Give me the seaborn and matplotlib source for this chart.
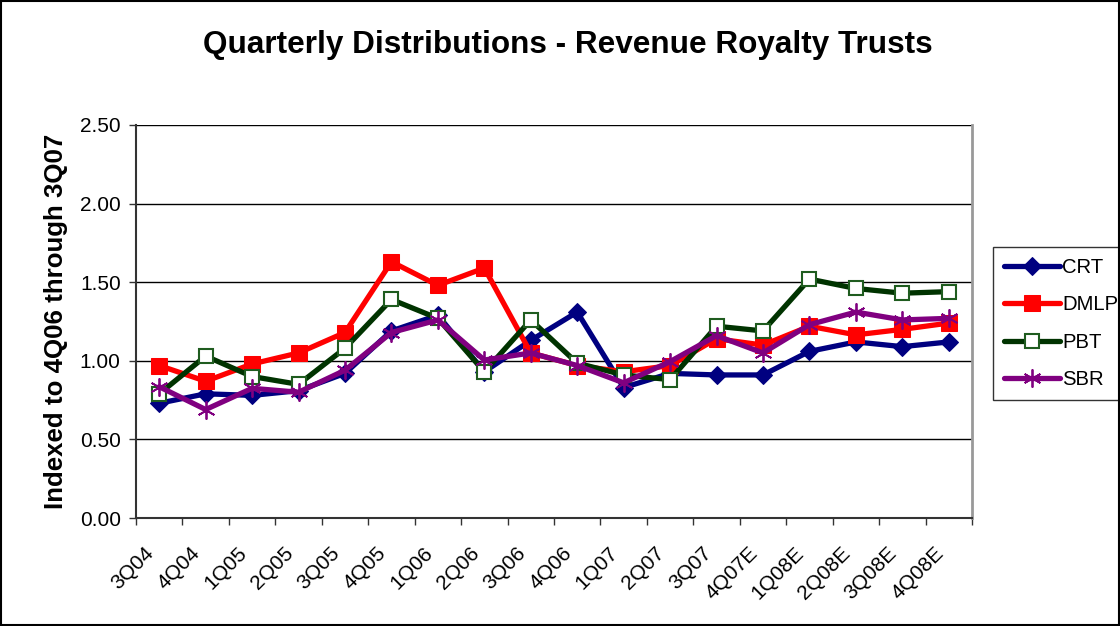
import matplotlib
matplotlib.use("Agg")
import matplotlib.pyplot as plt
import matplotlib.transforms as mtransforms
import seaborn as sns
import numpy as np
import pandas as pd
from matplotlib.patches import Rectangle

quarters = ["3Q04", "4Q04", "1Q05", "2Q05", "3Q05", "4Q05", "1Q06", "2Q06", "3Q06",
            "4Q06", "1Q07", "2Q07", "3Q07", "4Q07E", "1Q08E", "2Q08E", "3Q08E", "4Q08E"]
crt = [0.73, 0.79, 0.78, 0.81, 0.92, 1.19, 1.29, 0.93, 1.13, 1.31, 0.83, 0.92, 0.91, 0.91, 1.06, 1.12, 1.09, 1.12]
dmlp = [0.97, 0.87, 0.98, 1.05, 1.18, 1.63, 1.48, 1.59, 1.05, 0.97, 0.93, 0.97, 1.14, 1.10, 1.22, 1.165, 1.20, 1.24]
pbt = [0.79, 1.03, 0.90, 0.85, 1.08, 1.39, 1.27, 0.93, 1.26, 0.985, 0.91, 0.88, 1.22, 1.19, 1.52, 1.46, 1.43, 1.44]
sbr = [0.835, 0.69, 0.825, 0.80, 0.94, 1.18, 1.26, 1.005, 1.05, 0.97, 0.86, 0.995, 1.16, 1.05, 1.23, 1.31, 1.26, 1.27]
yticks = [0.0, 0.5, 1.0, 1.5, 2.0, 2.5]

series = {"CRT": crt, "DMLP": dmlp, "PBT": pbt, "SBR": sbr}
colors = {"CRT": "#000080", "DMLP": "#FF0000", "PBT": "#003300", "SBR": "#800080"}

rows = []
for name, vals in series.items():
    for i, v in enumerate(vals):
        rows.append({"pos": i, "value": v, "series": name})
df = pd.DataFrame(rows)

sns.set_theme(style="white")
plt.rcParams["font.family"] = ["Liberation Sans", "DejaVu Sans"]
plt.rcParams["text.color"] = "black"
plt.rcParams["axes.labelcolor"] = "black"
plt.rcParams["xtick.color"] = "black"
plt.rcParams["ytick.color"] = "black"

fig = plt.figure(figsize=(11.2, 6.26), dpi=100)
ax = fig.add_axes([136 / 1120, 1 - 518 / 626, (972 - 136) / 1120, (518 - 125) / 626])

for name in series:
    sub = df[df["series"] == name]
    c = colors[name]
    if name == "PBT":
        kw = dict(marker="s", markersize=10, markerfacecolor="white",
                  markeredgecolor="#1f5c1f", markeredgewidth=1.5)
    elif name == "SBR":
        kw = dict(marker=(6, 2, 0), markersize=13, markeredgecolor=c, markeredgewidth=1.3)
    elif name == "DMLP":
        kw = dict(marker="s", markersize=11, markeredgecolor=c)
    else:
        kw = dict(marker="D", markersize=9, markeredgecolor=c)
    sns.lineplot(data=sub, x="pos", y="value", ax=ax, color=c, linewidth=3.8,
                 label=name, **kw)

n = len(quarters)
ax.set_xlim(-0.5, n - 0.5)
ax.set_ylim(0, 2.5)
ax.set_yticks(yticks)
ax.set_yticklabels([f"{t:.2f}" for t in yticks], fontsize=15)
ax.set_xticks(range(n))
ax.set_xticks(np.arange(-0.5, n, 1.0), minor=True)
ax.tick_params(axis="x", which="major", length=0, pad=14)
ax.tick_params(axis="x", which="minor", length=5, width=1, color="#333333", bottom=True, direction="out")
ax.tick_params(axis="y", length=5, width=1, color="#333333", left=True, direction="out", pad=6)
ax.set_xticklabels(quarters, rotation=45, ha="right", rotation_mode="anchor", fontsize=15)
shift = mtransforms.ScaledTranslation(-15 / 100, -6 / 100, fig.dpi_scale_trans)
for lbl in ax.xaxis.get_majorticklabels():
    lbl.set_transform(lbl.get_transform() + shift)
ax.yaxis.grid(True, color="black", linewidth=1)
ax.xaxis.grid(False)
ax.set_axisbelow(True)
for s in ["left", "bottom"]:
    ax.spines[s].set_color("#333333")
    ax.spines[s].set_linewidth(1.5)
ax.spines["right"].set_color("#999999")
ax.spines["right"].set_linewidth(2)
ax.spines["top"].set_visible(False)

ax.set_xlabel("")
ax.set_ylabel("Indexed to 4Q06 through 3Q07", fontsize=18.6, fontweight="bold")
ax.yaxis.set_label_coords((68 - 136) / (972 - 136), 0.5)

fig.text(0.507, 1 - 45 / 626, "Quarterly Distributions - Revenue Royalty Trusts",
         ha="center", va="center", fontsize=22.7, fontweight="bold")

handles, labels = ax.get_legend_handles_labels()
ax.legend(handles, labels, loc="upper left", bbox_to_anchor=(993 / 1120, 1 - 247 / 626),
          bbox_transform=fig.transFigure, frameon=True, fancybox=False, fontsize=14.6,
          edgecolor="black", handlelength=2.75, borderpad=0.55, labelspacing=0.9,
          handletextpad=0.1, borderaxespad=0)
ax.get_legend().get_frame().set_linewidth(1)

fig.patches.append(Rectangle((0.001, 0.001), 0.998, 0.997, transform=fig.transFigure,
                             fill=False, edgecolor="black", linewidth=1.5))

fig.savefig("out.png", dpi=100)
